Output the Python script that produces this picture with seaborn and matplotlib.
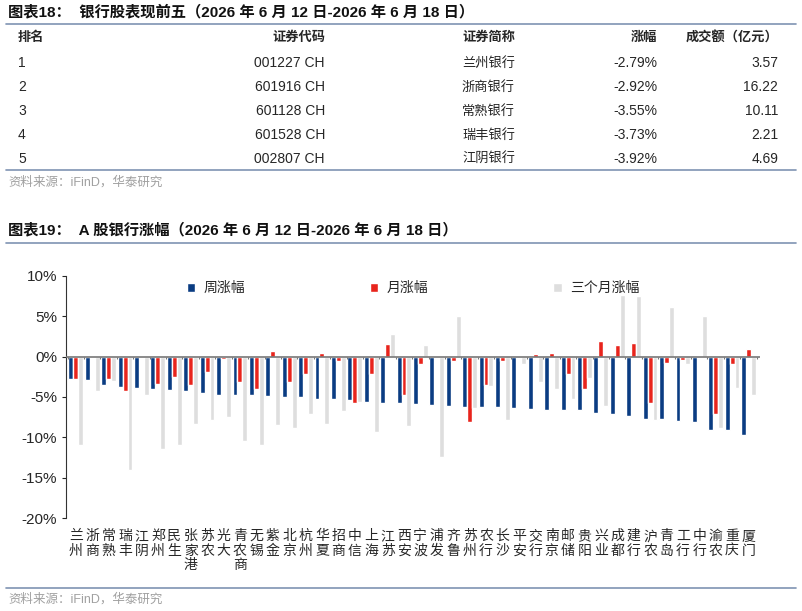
import matplotlib
matplotlib.use("Agg")
import matplotlib.pyplot as plt
import seaborn as sns
import pandas as pd
import numpy as np

rank = ["1", "2", "3", "4", "5"]
codes = ["001227 CH", "601916 CH", "601128 CH", "601528 CH", "002807 CH"]
names_top = ["兰州银行", "浙商银行", "常熟银行", "瑞丰银行", "江阴银行"]
chg_top = ["-2.79%", "-2.92%", "-3.55%", "-3.73%", "-3.92%"]
turnover = ["3.57", "16.22", "10.11", "2.21", "4.69"]

banks = ["兰州", "浙商", "常熟", "瑞丰", "江阴", "郑州", "民生", "张家港", "苏农", "光大", "青农商",
         "无锡", "紫金", "北京", "杭州", "华夏", "招商", "中信", "上海", "江苏", "西安", "宁波",
         "浦发", "齐鲁", "苏州", "农行", "长沙", "平安", "交行", "南京", "邮储", "贵阳", "兴业",
         "成都", "建行", "沪农", "青岛", "工行", "中行", "渝农", "重庆", "厦门"]
week = [-2.79, -2.92, -3.55, -3.73, -3.92, -4.0, -4.1, -4.2, -4.5, -4.7, -4.75,
        -4.8, -4.9, -5.0, -5.0, -5.2, -5.3, -5.4, -5.6, -5.7, -5.8, -5.9,
        -6.0, -6.1, -6.3, -6.3, -6.3, -6.4, -6.45, -6.6, -6.6, -6.6, -6.95,
        -7.1, -7.3, -7.7, -7.7, -8.0, -8.1, -9.05, -9.1, -9.7]
month = [-2.8, 0.0, -2.8, -4.3, 0.1, -3.4, -2.5, -3.5, -1.9, -0.3, -3.1,
         -4.0, 0.75, -3.1, -2.1, 0.4, -0.5, -5.7, -2.2, 1.6, -4.8, -0.95,
         0.05, -0.5, -8.1, -3.5, -0.55, 0.05, 0.3, 0.5, -2.2, -4.05, 2.0,
         1.45, 1.65, -5.8, -0.75, -0.4, -0.1, -7.15, -0.9, 0.95]
quarter = [-11.0, -4.2, -3.0, -14.0, -4.7, -11.4, -11.0, -8.3, -7.9, -7.5, -10.5,
           -10.9, -8.5, -8.9, -7.1, -8.4, -6.7, -5.6, -9.3, 2.8, -8.6, 1.4,
           -12.4, 5.0, -6.4, -3.6, -7.9, -0.9, -3.2, -4.0, -5.2, -2.7, -6.1,
           7.7, 7.5, -7.9, 6.1, -0.9, 5.0, -8.8, -3.9, -4.75]
series = ["周涨幅", "月涨幅", "三个月涨幅"]
colors = ["#0A3C82", "#E8241C", "#DEDEDE"]

sns.set_theme(style="white")
plt.rcParams['font.family'] = ['Liberation Sans', 'Noto Sans CJK SC']
plt.rcParams['axes.unicode_minus'] = False

W, H = 802, 611
fig = plt.figure(figsize=(W / 100, H / 100), dpi=100)

def ft(x, y, s, **kw):
    fig.text(x / W, 1 - y / H, s, va="center", **kw)

def hline(y, x0, x1, color, lw):
    fig.add_artist(plt.Line2D([x0 / W, x1 / W], [1 - y / H, 1 - y / H], color=color, lw=lw))

# Table
ft(8, 12, "图表18：  银行股表现前五（2026 年 6 月 12 日-2026 年 6 月 18 日）", fontsize=11, fontweight="bold", color="#111111")
hline(24, 6, 796, "#7F93B3", 1.2)
hdr_y = 38
ft(18, hdr_y, "排名", fontsize=9.5, fontweight="bold")
ft(325, hdr_y, "证券代码", fontsize=9.5, fontweight="bold", ha="right")
ft(515, hdr_y, "证券简称", fontsize=9.5, fontweight="bold", ha="right")
ft(657, hdr_y, "涨幅", fontsize=9.5, fontweight="bold", ha="right")
ft(778, hdr_y, "成交额（亿元）", fontsize=9.5, fontweight="bold", ha="right")
for i in range(5):
    y = 63 + 24 * i
    ft(18, y, rank[i], fontsize=10)
    ft(325, y, codes[i], fontsize=10, ha="right")
    ft(515, y, names_top[i], fontsize=9.5, ha="right")
    ft(657, y, chg_top[i], fontsize=10, ha="right")
    ft(778, y, turnover[i], fontsize=10, ha="right")
hline(170, 6, 796, "#7F93B3", 1.2)
ft(8, 182, "资料来源：iFinD，华泰研究", fontsize=9, color="#A0A0A0")

# Chart
ft(8, 230, "图表19：  A 股银行涨幅（2026 年 6 月 12 日-2026 年 6 月 18 日）", fontsize=11, fontweight="bold", color="#111111")
hline(243, 6, 796, "#7F93B3", 1.2)
hline(588, 6, 796, "#7F93B3", 1.2)
ft(8, 599, "资料来源：iFinD，华泰研究", fontsize=9, color="#A0A0A0")

df = pd.DataFrame({
    "bank": banks * 3,
    "series": sum([[s] * len(banks) for s in series], []),
    "value": week + month + quarter,
})
ax = fig.add_axes([66 / W, 1 - 518 / H, (760 - 66) / W, 242 / H])
sns.barplot(data=df, x="bank", y="value", hue="series", order=banks, hue_order=series,
            palette=colors, width=0.9, ax=ax, saturation=1, legend=True)
n = len(banks)
ax.set_xlim(-0.6, n - 0.3)
ax.set_ylim(-20, 10)
ax.set_yticks(np.arange(-20, 11, 5))
ax.set_yticklabels([f"{v}%" for v in range(-20, 11, 5)], fontsize=11)
ax.set_xticks(range(n))
ax.set_xticklabels(["\n".join(b) for b in banks], fontsize=10, linespacing=1.05, va="top")
ax.tick_params(axis="x", length=0, pad=8)
ax.tick_params(axis="y", length=3, direction="out", left=True, width=0.8)
ax.set_xlabel("")
ax.set_ylabel("")
for s in ["top", "right", "bottom"]:
    ax.spines[s].set_visible(False)
ax.spines["left"].set_color("#333333")
ax.spines["left"].set_linewidth(0.8)
ax.axhline(0, color="#777777", lw=1.2, zorder=3)
ax.vlines(np.arange(n + 1) - 0.5, -0.35, 0, color="#777777", lw=0.8, zorder=3)
ax.legend(loc="upper center", bbox_to_anchor=(0.5, 1.03), ncol=3, frameon=False,
          fontsize=10, columnspacing=9, handlelength=0.6, handleheight=0.6, handletextpad=0.6)

fig.savefig("out.png", dpi=100)
